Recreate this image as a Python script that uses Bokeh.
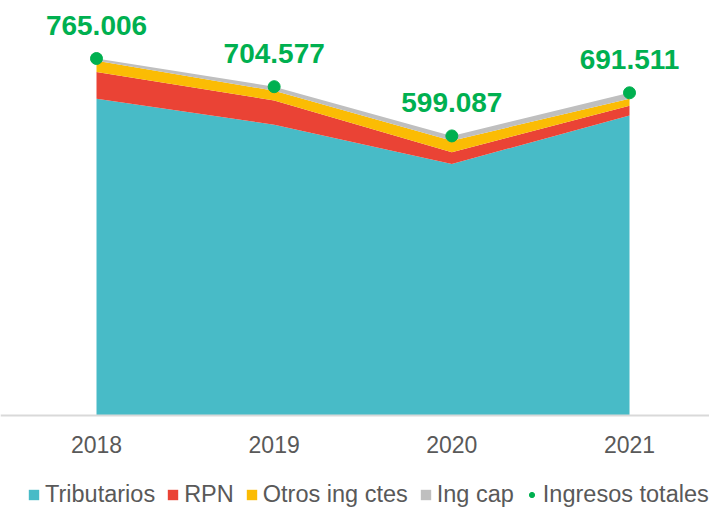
from bokeh.plotting import figure
from bokeh.models import ColumnDataSource, Range1d, FixedTicker, Legend, LegendItem
from bokeh.core.properties import value
from bokeh.embed import file_html
from bokeh.resources import INLINE

years = [2018, 2019, 2020, 2021]
year_labels = ["2018", "2019", "2020", "2021"]
tributarios = [679000, 623000, 539000, 643000]
rpn = [57000, 52000, 25000, 21000]
otros_ing_ctes = [24000, 21000, 25000, 15000]
ing_cap = [5006, 8577, 10087, 12511]
ingresos_totales = [765006, 704577, 599087, 691511]
total_labels = ["765.006", "704.577", "599.087", "691.511"]

series_names = ["Tributarios", "RPN", "Otros ing ctes", "Ing cap"]
colors = ["#48BBC7", "#EA4335", "#FBBC04", "#BFBFBF"]
green = "#00B050"
FONT = "Liberation Sans"

source = ColumnDataSource(data=dict(
    year=years,
    trib=tributarios,
    rpn=rpn,
    otros=otros_ing_ctes,
    cap=ing_cap,
    total=ingresos_totales,
    lab=total_labels,
))

W, H = 709, 508
px_per_year = 177.67
x0 = 2018 - 96 / px_per_year
px_per_unit = 357 / 765006
base_px = 415
y_end = base_px / px_per_unit
y_start = -(H - base_px) / px_per_unit

p = figure(width=W, height=H, output_backend="svg", toolbar_location=None,
           x_range=Range1d(x0, x0 + W / px_per_year),
           y_range=Range1d(y_start, y_end),
           min_border=0, min_border_left=0, min_border_right=0,
           min_border_top=0, min_border_bottom=0,
           y_axis_location=None)
p.outline_line_color = None
p.xgrid.visible = False
p.ygrid.visible = False
p.background_fill_color = "white"
p.border_fill_color = "white"

areas = p.varea_stack(stackers=["trib", "rpn", "otros", "cap"], x="year",
                      color=colors, source=source)
dots = p.scatter(x="year", y="total", source=source, size=12,
                 fill_color=green, line_color=green)
p.text(x="year", y="total", text="lab", source=source,
       text_font=value(FONT), text_font_style="bold", text_font_size="28px",
       text_color=green, text_align="center", text_baseline="alphabetic",
       y_offset=-33)

ax = p.xaxis[0]
ax.fixed_location = 0
ax.ticker = FixedTicker(ticks=years)
ax.major_label_overrides = {y: l for y, l in zip(years, year_labels)}
ax.major_tick_line_color = None
ax.minor_tick_line_color = None
ax.major_tick_out = 0
ax.major_tick_in = 0
ax.axis_line_color = "#D9D9D9"
ax.axis_line_width = 2
ax.major_label_standoff = 20
ax.major_label_text_font = FONT
ax.major_label_text_font_size = "23px"
ax.major_label_text_color = "#595959"

items = [LegendItem(label=n, renderers=[r]) for n, r in zip(series_names, areas)]
items.append(LegendItem(label="Ingresos totales", renderers=[dots]))
legend = Legend(items=items, orientation="horizontal", location=(27, 0),
                glyph_width=13, glyph_height=13, label_standoff=5, spacing=11,
                padding=0, margin=0, border_line_color=None,
                background_fill_alpha=0,
                label_text_font=FONT, label_text_font_size="23.5px",
                label_text_color="#595959")
p.add_layout(legend, "center")

open("out.html", "w").write(file_html(p, INLINE))
